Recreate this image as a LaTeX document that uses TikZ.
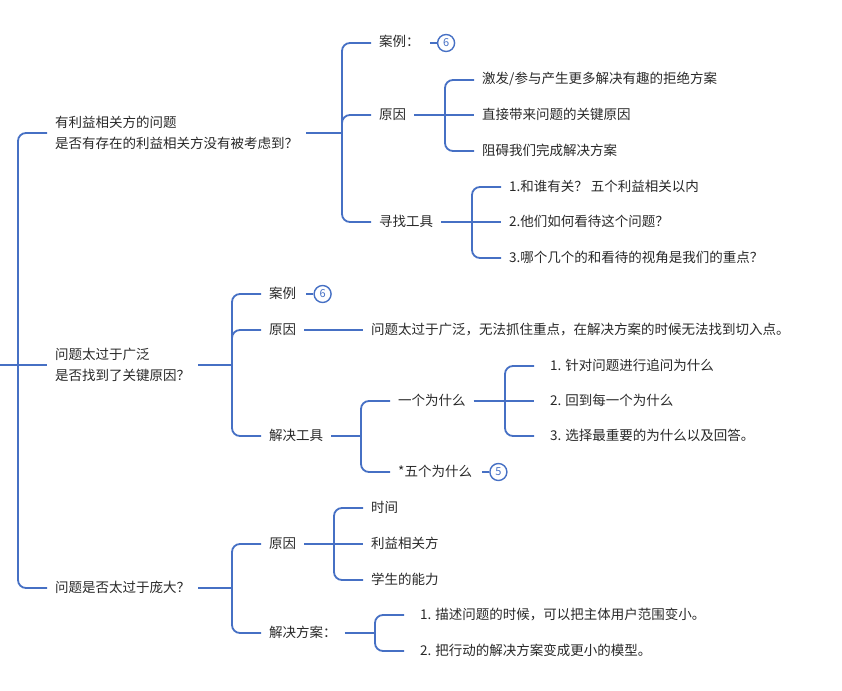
\documentclass[tikz,border=0pt]{standalone}
\usepackage{fontspec}
\setmainfont{Noto Sans CJK SC}
\usetikzlibrary{calc,positioning}

\definecolor{mapblue}{RGB}{70,112,196}
\definecolor{maptext}{RGB}{40,40,40}

% parent to child: straight stub, then round bend to the child
\newcommand\fork[2]{%
  \path [line] (#1.east) -- ($(#1.east -| #2.west)+(-29pt,0)$);
  \path [line, rounded corners=8pt] ($(#1.east -| #2.west)+(-29pt,0)$) |- (#2.west);}
% parent to child on the same level
\newcommand\straightlink[2]{%
  \path [line] (#1.east) -- (#1.east -| #2.west);}

\begin{document}
\begin{tikzpicture} [
    x=1pt, y=-1pt,
    label text/.style = { anchor=west, inner xsep=8pt, inner ysep=2pt,
                        text=maptext, font=\fontsize{13.5}{21}\selectfont },
    topic/.style    = { label text, align=left },
    block/.style    = { label text, text height=11pt, text depth=3pt },
    wide/.style     = { inner xsep=16pt },
    line/.style     = { draw=mapblue, line width=1.8pt },
    badge/.style    = { circle, draw=mapblue, line width=1.4pt, text=mapblue,
                        font=\fontsize{11}{11}\selectfont, minimum size=17pt,
                        inner sep=0pt, right=9pt of #1 },
  ]
  \useasboundingbox (0,0) rectangle (842,690);

  % Define nodes
  \node[topic](stake) at (47,133) {有利益相关方的问题\\是否有存在的利益相关方没有被考虑到？};
  \node[block](case1) at (371,43) {案例：};
  \node[block](cause1) at (371,115) {原因};
  \node[block](c1a) at (474,80) {激发/参与产生更多解决有趣的拒绝方案};
  \node[block](c1b) at (474,115) {直接带来问题的关键原因};
  \node[block](c1c) at (474,151) {阻碍我们完成解决方案};
  \node[block](tools1) at (371,222) {寻找工具};
  \node[block](t1a) at (501,187) {1.和谁有关？ 五个利益相关以内};
  \node[block](t1b) at (501,222) {2.他们如何看待这个问题？};
  \node[block](t1c) at (501,258) {3.哪个几个的和看待的视角是我们的重点？};

  \node[topic](broad) at (47,365) {问题太过于广泛\\是否找到了关键原因？};
  \node[inner sep=0pt] (root) at ([xshift=-49pt]broad.west) {};
  \node[block](case2) at (261,294) {案例};
  \node[block](cause2) at (261,330) {原因};
  \node[block](why2) at (363,330) {问题太过于广泛，无法抓住重点，在解决方案的时候无法找到切入点。};
  \node[block](tools2) at (261,436) {解决工具};
  \node[block](one) at (390,401) {一个为什么};
  \node[block, wide](onea) at (534,366) {1. 针对问题进行追问为什么};
  \node[block, wide](oneb) at (534,401) {2. 回到每一个为什么};
  \node[block, wide](onec) at (534,436) {3. 选择最重要的为什么以及回答。};
  \node[block](five) at (390,472) {*五个为什么};

  \node[block](huge) at (47,588) {问题是否太过于庞大？};
  \node[block](cause3) at (261,544) {原因};
  \node[block](h1) at (363,508) {时间};
  \node[block](h2) at (363,544) {利益相关方};
  \node[block](h3) at (363,580) {学生的能力};
  \node[block](plan3) at (261,633) {解决方案：};
  \node[block, wide](p1) at (404,615) {1. 描述问题的时候，可以把主体用户范围变小。};
  \node[block, wide](p2) at (404,651) {2. 把行动的解决方案变成更小的模型。};

  % counters
  \node[badge=case1](n1) {6};
  \node[badge=case2](n2) {6};
  \node[badge=five](n3) {5};

  % connect the nodes
  \foreach \p/\c in {root/stake, root/huge,
      stake/case1, stake/cause1, stake/tools1,
      cause1/c1a, cause1/c1c, tools1/t1a, tools1/t1c,
      broad/case2, broad/cause2, broad/tools2,
      tools2/one, tools2/five, one/onea, one/onec,
      huge/cause3, huge/plan3, cause3/h1, cause3/h3,
      plan3/p1, plan3/p2}
    {\fork{\p}{\c}}

  \foreach \p/\c in {root/broad, cause1/c1b, tools1/t1b,
      cause2/why2, one/oneb, cause3/h2}
    {\straightlink{\p}{\c}}

  \foreach \n in {n1, n2, n3}
    \path [line] ([xshift=-7pt]\n.west) -- (\n.west);
\end{tikzpicture}
\end{document}
